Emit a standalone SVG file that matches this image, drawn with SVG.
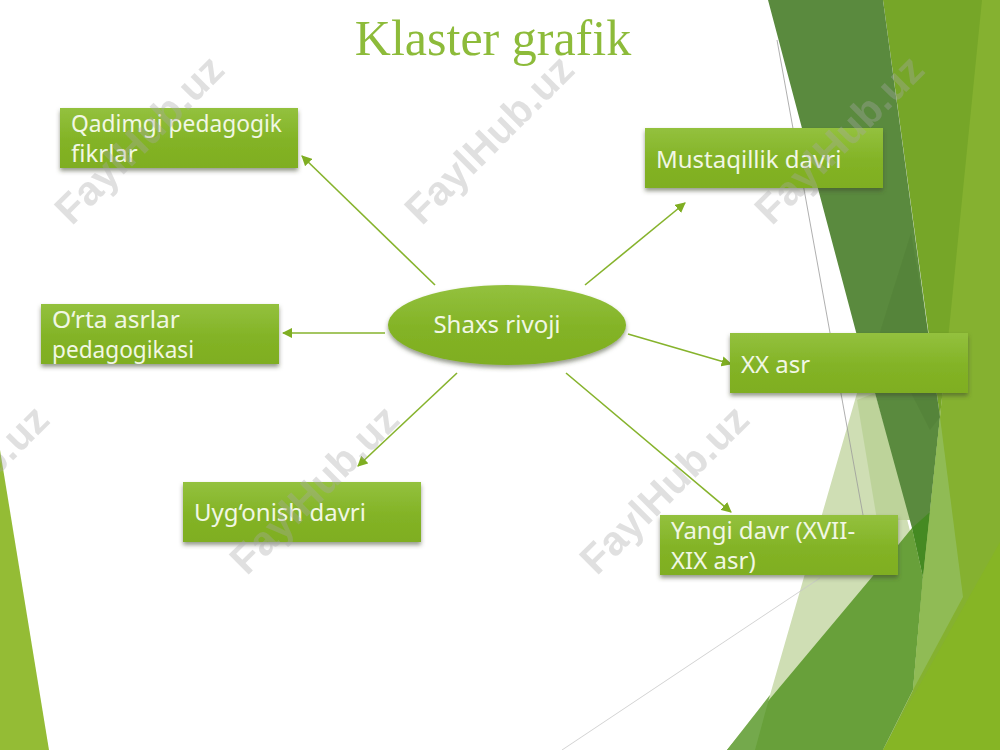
<svg xmlns="http://www.w3.org/2000/svg" width="1000" height="750" viewBox="0 0 1000 750">
<style>
.n{fill:url(#g);filter:url(#s)}
.t{font-family:"Noto Sans","Open Sans",sans-serif;font-size:24px;fill:#f1f7e4}
.c{stroke:#86b32c;stroke-width:1.6;fill:none;marker-end:url(#a)}
.w{font-family:"Liberation Sans",Arial,sans-serif;font-weight:700;font-size:41px;fill:#a8a8a8;opacity:.35;text-anchor:middle}
</style>
<defs>
<linearGradient id="g" x1="0" y1="0" x2="0" y2="1"><stop offset="0" stop-color="#93c13e"/><stop offset=".55" stop-color="#83b326"/><stop offset="1" stop-color="#7fae20"/></linearGradient>
<filter id="s" x="-10%" y="-15%" width="120%" height="135%"><feDropShadow dx="0" dy="3" stdDeviation="2.2" flood-color="#3c4a30" flood-opacity=".55"/></filter>
<marker id="a" viewBox="0 0 10 10" refX="9" refY="5" markerWidth="6.5" markerHeight="6.5" orient="auto"><path d="M0 0L10 5L0 10Z" fill="#7fae22"/></marker>
</defs>
<rect width="1000" height="750" fill="#fff"/>
<g id="background">
<path d="M0 450L49 750H0Z" fill="#94bc35"/>
<path d="M857 393L770 695L727 750H883L925 590L875 393Z" fill="#cfdeb4"/>
<path d="M857 400L877 520H912L875 393Z" fill="#bdd39a"/>
<path d="M981 0H1000V750H883L913 690L923 577L940 417L948 332Z" fill="#85b130"/>
<path d="M883 0H982L948 340L940 417Z" fill="#76a628"/>
<path d="M768 0H883L928 332L940 417L923 577L912 528L875 393L856 332Z" fill="#5a8a3e"/>
<path d="M911 233L928 332L940 417L930 430L880 332Z" fill="#527f36" opacity=".55"/>
<path d="M912 528L930 512L923 577Z" fill="#458a22"/>
<path d="M912 528L923 577L913 690L883 750H727L872 577Z" fill="#68a03a"/>
<path d="M727 750L770 695L755 750Z" fill="#74a94c"/>
<path d="M940 417L963 597L913 690L923 577Z" fill="#90bb55"/>
<path d="M883 750L1000 542V750Z" fill="#86b525"/>
<path d="M777 40L863 515" stroke="#9a9a9a" stroke-width=".8" fill="none"/>
<path d="M562 750L820 578" stroke="#c8c8c8" stroke-width=".8" fill="none"/>
</g>
<text x="493" y="55" font-family="Liberation Serif,serif" font-size="50" fill="#8dbb3a" text-anchor="middle">Klaster grafik</text>
<g id="connectors">
<line class="c" x1="435" y1="285" x2="302" y2="156"/>
<line class="c" x1="585" y1="285" x2="685" y2="203"/>
<line class="c" x1="385" y1="333" x2="283" y2="333"/>
<line class="c" x1="628" y1="334" x2="731" y2="364"/>
<line class="c" x1="457" y1="373" x2="358" y2="466"/>
<line class="c" x1="566" y1="373" x2="731" y2="512"/>
</g>
<g id="center"><ellipse class="n" cx="507" cy="325" rx="119" ry="40"/><text class="t" x="497" y="333" text-anchor="middle">Shaxs rivoji</text></g>
<g id="n1"><rect class="n" x="60" y="108" width="238" height="60"/><text class="t" x="71" y="132" textLength="211" lengthAdjust="spacingAndGlyphs">Qadimgi pedagogik</text><text class="t" x="71" y="162">fikrlar</text></g>
<g id="n2"><rect class="n" x="645" y="128" width="238" height="60"/><text class="t" x="656" y="168">Mustaqillik davri</text></g>
<g id="n3"><rect class="n" x="41" y="304" width="238" height="60"/><text class="t" x="52" y="328" textLength="128" lengthAdjust="spacingAndGlyphs">O‘rta asrlar</text><text class="t" x="52" y="358" textLength="142" lengthAdjust="spacingAndGlyphs">pedagogikasi</text></g>
<g id="n4"><rect class="n" x="730" y="333" width="238" height="60"/><text class="t" x="741" y="373">XX asr</text></g>
<g id="n5"><rect class="n" x="183" y="482" width="238" height="60"/><text class="t" x="194" y="521">Uyg‘onish davri</text></g>
<g id="n6"><rect class="n" x="660" y="515" width="238" height="60"/><text class="t" x="671" y="539">Yangi davr (XVII-</text><text class="t" x="671" y="569">XIX asr)</text></g>
<g id="watermarks">
<text class="w" transform="translate(140 140) rotate(-45)" x="0" y="13">FaylHub.uz</text>
<text class="w" transform="translate(490 140) rotate(-45)" x="0" y="13">FaylHub.uz</text>
<text class="w" transform="translate(840 140) rotate(-45)" x="0" y="13">FaylHub.uz</text>
<text class="w" transform="translate(-35 490) rotate(-45)" x="0" y="13">FaylHub.uz</text>
<text class="w" transform="translate(315 490) rotate(-45)" x="0" y="13">FaylHub.uz</text>
<text class="w" transform="translate(665 490) rotate(-45)" x="0" y="13">FaylHub.uz</text>
</g>
</svg>
